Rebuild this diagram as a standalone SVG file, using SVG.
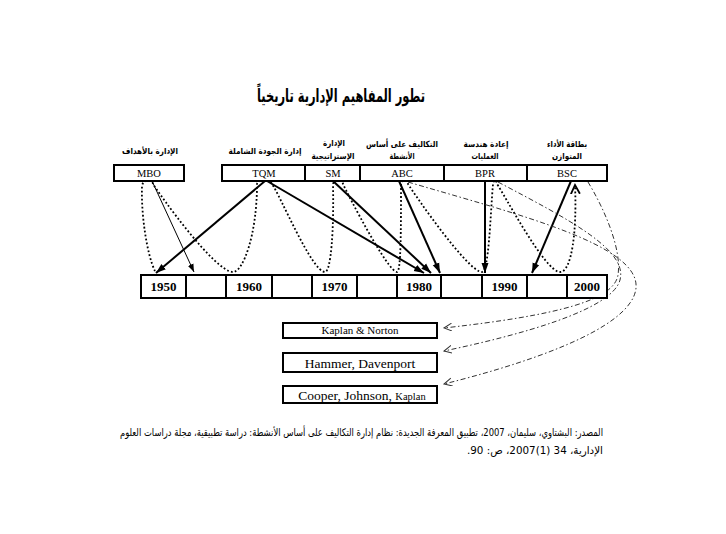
<svg xmlns="http://www.w3.org/2000/svg" width="726" height="534" viewBox="0 0 726 534">
<style>
.box{fill:#fff;stroke:#000;stroke-width:2}
.ar{font-family:"DejaVu Sans",sans-serif;font-weight:bold;fill:#000;text-anchor:middle;direction:rtl}
.arn{font-family:"DejaVu Sans",sans-serif;fill:#000;text-anchor:middle;direction:rtl;font-size:10.5px}
.yr{font-family:"Liberation Serif",serif;font-weight:bold;font-size:13px;text-anchor:middle;fill:#000}
.cl{font-family:"Liberation Serif",serif;font-size:10.5px;text-anchor:middle;fill:#000}
.au{font-family:"Liberation Serif",serif;text-anchor:middle;fill:#000}
.solid{fill:none;stroke:#000;stroke-width:2}
.thin{fill:none;stroke:#000;stroke-width:1}
.dot{fill:none;stroke:#000;stroke-width:1.8;stroke-dasharray:1.8 2.2}
.dd{fill:none;stroke:#333;stroke-width:1;stroke-dasharray:5 2.5 1.5 2.5}
</style>
<defs>
<marker id="ah" markerWidth="11" markerHeight="9" refX="10" refY="4.5" orient="auto" markerUnits="userSpaceOnUse"><path d="M0,1 L10,4.5 L0,8 Z" fill="#000"/></marker>
<marker id="ahs" markerWidth="9" markerHeight="7" refX="8" refY="3.5" orient="auto" markerUnits="userSpaceOnUse"><path d="M0,0.5 L8,3.5 L0,6.5 Z" fill="#000"/></marker>
<marker id="ao" markerWidth="10" markerHeight="10" refX="8" refY="4" orient="auto" markerUnits="userSpaceOnUse"><path d="M0,0 L8,4 L0,8" fill="none" stroke="#333" stroke-width="1"/></marker>
<marker id="av" markerWidth="12" markerHeight="12" refX="9" refY="5" orient="auto" markerUnits="userSpaceOnUse"><path d="M0,0.5 L9,5 L0,9.5" fill="none" stroke="#000" stroke-width="1.8"/></marker>
</defs>

<text class="ar" x="341" y="102" font-size="18" textLength="168" lengthAdjust="spacingAndGlyphs">تطور المفاهيم الإدارية تاريخياً</text>

<g id="labels">
<text class="ar" x="150" y="154" font-size="8.5" textLength="56" lengthAdjust="spacingAndGlyphs">الإدارة بالأهداف</text>
<text class="ar" x="265" y="154" font-size="8.5" textLength="73" lengthAdjust="spacingAndGlyphs">إدارة الجودة الشاملة</text>
<text class="ar" x="334" y="146" font-size="8.5" textLength="22" lengthAdjust="spacingAndGlyphs">الإدارة</text>
<text class="ar" x="333" y="159" font-size="8.5" textLength="43" lengthAdjust="spacingAndGlyphs">الإستراتيجية</text>
<text class="ar" x="402" y="147" font-size="8.5" textLength="72" lengthAdjust="spacingAndGlyphs">التكاليف على أساس</text>
<text class="ar" x="402" y="159" font-size="8.5" textLength="25" lengthAdjust="spacingAndGlyphs">الأنشطة</text>
<text class="ar" x="486" y="147" font-size="8.5" textLength="45" lengthAdjust="spacingAndGlyphs">إعادة هندسة</text>
<text class="ar" x="485" y="159" font-size="8.5" textLength="27" lengthAdjust="spacingAndGlyphs">العمليات</text>
<text class="ar" x="567" y="147" font-size="8.5" textLength="40" lengthAdjust="spacingAndGlyphs">بطاقة الأداء</text>
<text class="ar" x="567" y="159" font-size="8.5" textLength="30" lengthAdjust="spacingAndGlyphs">المتوازن</text>
</g>

<g id="connectors">
<path class="dot" d="M155,271 C147,255 141,215 142,186 C143,179 152,179 153,184 C160,195 215,272 233,272 C243,272 257,235 257,184 C258,179 270,179 272,184 C280,195 312,272 325,272 C331,272 334,230 333,184 C334,179 342,179 343,184 C348,195 388,272 397,272 C401,272 401,230 401,184 C402,179 407,179 408,184 C415,195 468,272 482,272 C489,270 490,220 493,184 C494,179 496,179 497,184 C503,192 545,272 560,272 C572,272 577,230 575,185" marker-end="url(#av)"/>
<path class="thin" d="M152,181 L194,272" marker-end="url(#ahs)"/>
<path class="solid" d="M265,181 L156,273" marker-end="url(#ah)"/>
<path class="solid" d="M267,181 L424,273" marker-end="url(#ah)"/>
<path class="solid" d="M333,181 L431,273" marker-end="url(#ah)"/>
<path class="solid" d="M399,181 L440,273" marker-end="url(#ah)"/>
<path class="solid" d="M485,181 L485,273" marker-end="url(#ah)"/>
<path class="solid" d="M571,181 L532,273" marker-end="url(#ah)"/>
<path class="dd" d="M588,182 C605,210 622,250 618,275 C614,300 560,315 444,328" marker-end="url(#ao)"/>
<path class="dd" d="M498,182 C570,220 628,250 620,280 C612,310 520,335 444,351" marker-end="url(#ao)"/>
<path class="dd" d="M408,182 C520,215 640,245 636,288 C632,330 520,365 444,384" marker-end="url(#ao)"/>
</g>

<g id="MBO"><rect class="box" x="114" y="165" width="70" height="16"/><text class="cl" x="149" y="176.5">MBO</text></g>
<g id="TQM"><rect class="box" x="222" y="165" width="83" height="16"/><text class="cl" x="264" y="176.5">TQM</text></g>
<g id="SM"><rect class="box" x="305" y="165" width="55" height="16"/><text class="cl" x="333" y="176.5">SM</text></g>
<g id="ABC"><rect class="box" x="360" y="165" width="84" height="16"/><text class="cl" x="402" y="176.5">ABC</text></g>
<g id="BPR"><rect class="box" x="444" y="165" width="83" height="16"/><text class="cl" x="485" y="176.5">BPR</text></g>
<g id="BSC"><rect class="box" x="527" y="165" width="80" height="16"/><text class="cl" x="567" y="176.5">BSC</text></g>

<g id="y1950"><rect class="box" x="141" y="275" width="45" height="23"/><text class="yr" x="163.5" y="291">1950</text></g>
<g id="y1955"><rect class="box" x="186" y="275" width="40" height="23"/></g>
<g id="y1960"><rect class="box" x="226" y="275" width="46" height="23"/><text class="yr" x="249" y="291">1960</text></g>
<g id="y1965"><rect class="box" x="272" y="275" width="40" height="23"/></g>
<g id="y1970"><rect class="box" x="312" y="275" width="45" height="23"/><text class="yr" x="334.5" y="291">1970</text></g>
<g id="y1975"><rect class="box" x="357" y="275" width="40" height="23"/></g>
<g id="y1980"><rect class="box" x="397" y="275" width="44" height="23"/><text class="yr" x="419" y="291">1980</text></g>
<g id="y1985"><rect class="box" x="441" y="275" width="41" height="23"/></g>
<g id="y1990"><rect class="box" x="482" y="275" width="45" height="23"/><text class="yr" x="504.5" y="291">1990</text></g>
<g id="y1995"><rect class="box" x="527" y="275" width="40" height="23"/></g>
<g id="y2000"><rect class="box" x="567" y="275" width="40" height="23"/><text class="yr" x="587" y="291">2000</text></g>

<g id="kaplan-norton"><rect class="box" x="283" y="323" width="154" height="15"/><text class="au" x="360" y="334" font-size="11">Kaplan &amp; Norton</text></g>
<g id="hammer-davenport"><rect class="box" x="283" y="353" width="154" height="19"/><text class="au" x="360" y="367.5" font-size="13.5">Hammer, Davenport</text></g>
<g id="cooper-johnson-kaplan"><rect class="box" x="283" y="386" width="154" height="17"/><text class="au" x="362" y="400" font-size="13.5">Cooper, Johnson, <tspan font-size="10.5">Kaplan</tspan></text></g>

<g id="source">
<text class="arn" x="361.5" y="436" textLength="483" lengthAdjust="spacingAndGlyphs">المصدر: البشتاوي، سليمان، 2007، تطبيق المعرفة الجديدة: نظام إدارة  التكاليف على أساس الأنشطة: دراسة تطبيقية، مجلة دراسات العلوم</text>
<text class="arn" x="535" y="454" textLength="136" lengthAdjust="spacingAndGlyphs">الإدارية، 34 (1)2007، ص: 90.</text>
</g>
</svg>
